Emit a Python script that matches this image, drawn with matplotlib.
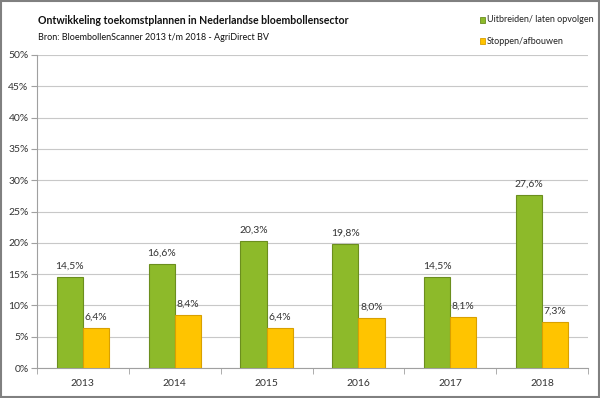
import matplotlib
matplotlib.use("Agg")
import matplotlib.pyplot as plt
import numpy as np
from matplotlib.patches import Rectangle

years = ["2013", "2014", "2015", "2016", "2017", "2018"]
uitbreiden = [14.5, 16.6, 20.3, 19.8, 14.5, 27.6]
stoppen = [6.4, 8.4, 6.4, 8.0, 8.1, 7.3]
series_names = ["Uitbreiden/ laten opvolgen", "Stoppen/afbouwen"]
yticks = [0, 5, 10, 15, 20, 25, 30, 35, 40, 45, 50]

plt.rcParams['font.family'] = ['Lato', 'DejaVu Sans']

fig = plt.figure(figsize=(6, 3.98), dpi=100)
ax = fig.add_axes([37/600, 30/398, 551/600, 313/398])

x = np.arange(len(years))
w = 0.285
green = "#8DBA2A"
green_edge = "#6B8E1E"
yellow = "#FFC400"
yellow_edge = "#D9A000"
ax.bar(x - w/2, uitbreiden, w, color=green, edgecolor=green_edge, linewidth=0.8, zorder=3)
ax.bar(x + w/2, stoppen, w, color=yellow, edgecolor=yellow_edge, linewidth=0.8, zorder=3)

def fmt(v):
    return f"{v:.1f}%".replace(".", ",")

for xi, v in zip(x - w/2, uitbreiden):
    ax.text(xi, v + 1.0, fmt(v), ha="center", va="bottom", fontsize=7.5, color="#333333")
for xi, v in zip(x + w/2, stoppen):
    ax.text(xi, v + 1.0, fmt(v), ha="center", va="bottom", fontsize=7.5, color="#333333")

ax.set_xlim(-0.5, len(years) - 0.5)
ax.set_ylim(0, 50)
ax.set_yticks(yticks)
ax.set_yticklabels([f"{t}%" for t in yticks], fontsize=7.5, color="#333333")
ax.set_xticks(x)
ax.set_xticklabels(years, fontsize=7.5, color="#333333")
ax.set_xticks(np.arange(len(years) + 1) - 0.5, minor=True)
ax.tick_params(axis="x", which="major", length=0, pad=8)
ax.tick_params(axis="x", which="minor", length=4, color="#A0A0A0")
ax.tick_params(axis="y", length=4, color="#A0A0A0", pad=2)
ax.grid(axis="y", color="#C8C8C8", linewidth=0.8, zorder=0)
for s in ["top", "right"]:
    ax.spines[s].set_visible(False)
ax.spines["left"].set_color("#A0A0A0")
ax.spines["bottom"].set_color("#A0A0A0")

fig.text(38/600, 1 - 20/398, "Ontwikkeling toekomstplannen in Nederlandse bloembollensector",
         fontsize=7.6, fontweight="bold", va="center", ha="left", color="#111111")
fig.text(38/600, 1 - 37/398, "Bron: BloembollenScanner 2013 t/m 2018 - AgriDirect BV",
         fontsize=6.5, va="center", ha="left", color="#111111")

# legend
for i, (name, c, ec) in enumerate([(series_names[0], green, green_edge), (series_names[1], yellow, yellow_edge)]):
    yy = 1 - (20 + 21*i)/398
    fig.patches.append(Rectangle((480/600, yy - 3/398), 5/600, 6/398, transform=fig.transFigure,
                                 facecolor=c, edgecolor=ec, linewidth=0.6))
    fig.text(487/600, yy, name, fontsize=6.5, va="center", ha="left", color="#222222")

fig.patches.append(Rectangle((0.002, 0.002), 0.996, 0.996, transform=fig.transFigure,
                             facecolor="none", edgecolor="#808080", linewidth=1.5))

fig.savefig("out.png", dpi=100)
